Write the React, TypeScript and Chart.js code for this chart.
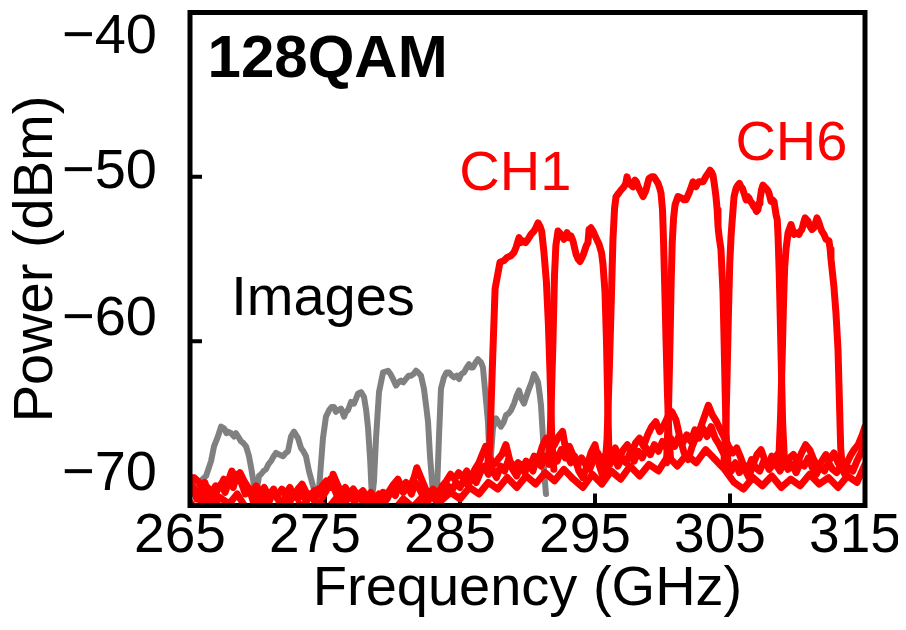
import React, { useEffect, useRef } from "react";
import { Chart, registerables } from "chart.js";

Chart.register(...registerables);

// ---------- data ----------
const xTickValues = [265, 275, 285, 295, 305, 315];
const xTickLabels = ["265", "275", "285", "295", "305", "315"];
const yTickValues = [-40, -50, -60, -70];
const yTickLabels = ["\u221240", "\u221250", "\u221260", "\u221270"];

const ch1: [number, number][] = [
  [287.0, -67.8], [287.2, -66.5], [287.4, -61.5], [287.6, -56.8], [287.96, -55.2], [288.25, -55.1],
  [288.5, -54.9], [288.78, -54.8], [289.0, -54.6], [289.15, -54.3], [289.37, -53.7], [289.52, -54.0],
  [289.67, -53.9], [289.85, -54.0], [290.04, -53.8], [290.26, -53.5], [290.48, -53.3], [290.62, -53.1],
  [290.78, -52.8], [290.92, -53.0], [291.05, -53.3], [291.22, -54.6], [291.4, -56.4], [291.55, -59.0],
  [291.67, -62.0], [291.8, -66.0], [291.95, -67.8],
];
const ch2: [number, number][] = [
  [291.6, -67.5], [291.75, -64.0], [291.89, -59.9], [292.0, -56.0], [292.1, -54.2], [292.26, -53.3],
  [292.48, -53.5], [292.7, -53.8], [292.93, -53.4], [293.07, -53.7], [293.22, -53.6], [293.37, -53.9],
  [293.59, -54.7], [293.75, -55.0], [293.89, -55.15], [294.05, -54.9], [294.19, -54.6], [294.35, -54.2],
  [294.48, -54.0], [294.56, -53.2], [294.7, -53.1], [294.85, -53.3], [295.07, -53.7], [295.3, -54.1],
  [295.48, -54.6], [295.59, -55.3], [295.74, -57.0], [295.85, -60.0], [295.95, -64.0], [296.05, -67.5],
];
const ch3: [number, number][] = [
  [295.75, -67.5], [295.89, -66.0], [296.05, -62.0], [296.19, -58.0], [296.33, -53.8], [296.45, -51.9],
  [296.56, -51.2], [296.75, -51.0], [296.93, -50.8], [297.15, -50.6], [297.28, -50.4], [297.37, -50.0],
  [297.52, -50.4], [297.66, -50.5], [297.81, -50.6], [297.96, -50.2], [298.07, -50.3], [298.19, -50.6],
  [298.38, -50.9], [298.56, -51.2], [298.67, -51.0], [298.78, -50.8], [298.9, -50.4], [299.0, -50.1],
  [299.2, -50.0], [299.37, -50.0], [299.52, -50.2], [299.67, -50.4], [299.8, -50.7], [299.89, -51.0],
  [300.0, -52.0], [300.08, -54.0], [300.16, -56.5], [300.26, -59.9], [300.36, -63.0], [300.46, -65.5],
  [300.6, -67.2],
];
const ch4: [number, number][] = [
  [300.3, -67.4], [300.45, -64.0], [300.56, -59.9], [300.64, -56.5], [300.72, -54.0], [300.82, -52.5],
  [300.93, -51.7], [301.15, -51.2], [301.44, -51.3], [301.6, -51.4], [301.74, -51.4], [301.85, -51.2],
  [301.96, -51.0], [302.1, -50.7], [302.26, -50.3], [302.37, -50.5], [302.48, -50.6], [302.6, -50.4],
  [302.7, -50.3], [302.85, -50.3], [303.0, -50.3], [303.2, -50.0], [303.37, -49.8], [303.52, -49.6],
  [303.62, -49.7], [303.74, -49.9], [303.85, -50.5], [303.96, -51.2], [304.05, -52.0], [304.11, -53.0],
  [304.2, -53.7], [304.33, -54.4], [304.48, -57.0], [304.56, -59.9], [304.64, -63.0], [304.72, -65.8],
  [304.85, -67.4],
];
const ch5: [number, number][] = [
  [304.55, -67.4], [304.7, -65.0], [304.8, -61.5], [304.88, -58.5], [304.98, -55.3], [305.08, -53.6],
  [305.15, -52.8], [305.3, -51.2], [305.45, -50.7], [305.59, -50.5], [305.7, -50.4], [305.81, -50.6],
  [305.92, -50.7], [306.04, -51.0], [306.19, -51.4], [306.3, -51.2], [306.41, -51.3], [306.52, -51.5],
  [306.63, -51.6], [306.75, -51.8], [306.85, -51.9], [306.97, -52.1], [307.07, -52.0], [307.15, -51.6],
  [307.22, -51.4], [307.33, -50.8], [307.44, -50.5], [307.55, -50.6], [307.67, -50.7], [307.78, -50.8],
  [307.89, -51.0], [308.04, -51.5], [308.15, -51.4], [308.26, -51.5], [308.41, -52.3], [308.5, -52.6],
  [308.56, -53.6], [308.65, -56.0], [308.72, -58.5], [308.8, -61.5], [308.9, -65.0], [309.05, -67.5],
];
const ch6: [number, number][] = [
  [308.6, -67.5], [308.75, -64.5], [308.88, -60.5], [308.97, -57.5], [309.05, -55.5], [309.15, -54.4],
  [309.3, -53.4], [309.52, -52.9], [309.63, -53.2], [309.74, -53.5], [309.9, -53.4], [310.11, -53.5],
  [310.22, -53.3], [310.33, -53.2], [310.45, -52.8], [310.56, -52.5], [310.67, -52.6], [310.78, -52.7],
  [310.92, -53.0], [311.07, -53.2], [311.22, -53.1], [311.33, -52.8], [311.44, -52.5], [311.55, -52.7],
  [311.67, -53.0], [311.8, -53.3], [311.96, -53.5], [312.11, -53.8], [312.33, -53.9], [312.42, -54.4],
  [312.48, -55.0], [312.7, -56.7], [312.85, -58.3], [313.0, -60.5], [313.1, -63.5], [313.2, -66.5],
  [313.3, -67.5],
];

const floorUpper: [number, number][] = [
  [265.0, -68.8], [265.3, -68.3], [265.7, -68.6], [266.0, -69.3], [266.3, -68.9], [266.6, -69.2],
  [266.9, -68.8], [267.2, -68.9], [267.5, -68.4], [267.8, -68.6], [268.1, -67.9], [268.4, -68.3],
  [268.7, -68.0], [269.0, -68.5], [269.3, -68.9], [269.6, -69.3], [269.9, -68.8], [270.2, -69.2],
  [270.5, -68.9], [270.8, -69.4], [271.1, -69.1], [271.4, -69.5], [271.8, -69.0], [272.1, -69.3],
  [272.4, -68.9], [272.7, -69.5], [273.0, -69.0], [273.3, -68.7], [273.6, -69.2], [273.9, -69.5],
  [274.2, -69.1], [274.5, -69.3], [274.8, -68.8], [275.1, -68.5], [275.4, -68.9], [275.6, -68.1],
  [275.9, -68.7], [276.2, -69.2], [276.5, -68.9], [276.8, -69.3], [277.1, -69.0], [277.4, -69.4],
  [277.8, -69.1], [278.1, -69.5], [278.4, -69.2], [278.7, -69.6], [279.0, -69.3], [279.4, -69.7],
  [279.7, -69.2], [280.0, -68.8], [280.4, -68.4], [280.7, -68.9], [281.0, -68.6], [281.3, -68.9],
  [281.6, -68.3], [281.8, -67.7], [282.1, -68.3], [282.4, -68.9], [282.7, -69.4], [283.0, -69.0],
  [283.4, -69.3], [283.7, -68.8], [284.0, -68.5], [284.3, -68.1], [284.6, -68.4], [284.9, -68.0],
  [285.2, -68.3], [285.5, -67.9], [285.8, -68.4], [286.1, -67.8], [286.4, -67.4], [286.7, -66.8],
  [286.9, -66.4], [287.2, -67.1], [287.5, -67.5], [287.8, -67.2], [288.1, -66.9], [288.4, -66.3],
  [288.7, -67.3], [289.0, -67.7], [289.3, -67.4], [289.6, -67.8], [289.9, -67.3], [290.2, -67.6],
  [290.5, -67.0], [290.8, -67.2], [291.1, -66.4], [291.4, -65.9], [291.7, -66.6], [292.0, -66.3],
  [292.3, -65.8], [292.6, -65.5], [292.9, -66.9], [293.2, -67.4], [293.5, -67.0], [293.8, -67.9],
  [294.1, -68.3], [294.4, -67.6], [294.7, -66.8], [295.0, -66.3], [295.3, -67.5], [295.6, -68.3],
  [295.9, -67.6], [296.2, -66.9], [296.5, -66.5], [296.8, -67.1], [297.1, -66.6], [297.4, -66.3],
  [297.7, -66.8], [298.0, -66.2], [298.3, -65.9], [298.6, -66.4], [298.9, -65.7], [299.2, -65.2],
  [299.5, -64.9], [299.8, -65.5], [300.1, -65.1], [300.4, -64.6], [300.7, -64.3], [301.0, -64.8],
  [301.3, -65.9], [301.6, -66.8], [301.9, -67.2], [302.2, -66.4], [302.5, -65.8], [302.8, -65.3],
  [303.1, -64.6], [303.4, -63.9], [303.7, -64.5], [304.0, -64.9], [304.3, -65.4], [304.6, -65.9],
  [304.9, -66.4], [305.2, -66.8], [305.5, -66.5], [305.8, -67.1], [306.1, -67.8], [306.4, -68.3],
  [306.7, -67.5], [307.0, -66.9], [307.3, -66.6], [307.6, -67.3], [307.9, -67.8], [308.2, -67.5],
  [308.5, -66.9], [308.8, -67.3], [309.1, -67.6], [309.4, -67.1], [309.7, -66.9], [310.0, -67.4],
  [310.3, -66.8], [310.6, -66.3], [310.9, -66.6], [311.2, -67.2], [311.5, -67.6], [311.8, -67.3],
  [312.1, -66.9], [312.4, -67.2], [312.7, -66.8], [313.0, -67.4], [313.3, -67.8], [313.6, -67.5],
  [313.9, -67.0], [314.2, -66.6], [314.5, -66.3], [314.8, -65.7], [315.0, -65.2],
];
const floorMid: [number, number][] = [
  [265.0, -69.3], [265.25, -68.9], [265.5, -69.6], [265.8, -69.0], [266.1, -68.6], [266.4, -69.4],
  [266.7, -69.8], [267.0, -69.1], [267.3, -68.7], [267.6, -69.2], [267.9, -68.5], [268.2, -68.9],
  [268.5, -68.1], [268.8, -68.6], [269.1, -69.3], [269.4, -69.0], [269.7, -69.8], [270.0, -69.4],
  [270.3, -69.9], [270.6, -69.3], [270.9, -69.7], [271.2, -69.0], [271.5, -69.6], [271.8, -69.9],
  [272.1, -69.4], [272.4, -69.8], [272.7, -69.2], [273.0, -69.6], [273.3, -69.1], [273.6, -69.8],
  [273.9, -69.3], [274.2, -69.7], [274.5, -69.0], [274.8, -69.5], [275.1, -69.1], [275.4, -68.4],
  [275.7, -69.0], [276.0, -69.6], [276.3, -69.1], [276.6, -69.7], [276.9, -69.4], [277.2, -69.8],
  [277.5, -69.3], [277.8, -69.8], [278.1, -69.4], [278.4, -69.9], [278.7, -69.5], [279.0, -69.8],
  [279.3, -69.2], [279.6, -69.6], [279.9, -69.1], [280.2, -69.4], [280.5, -68.7], [280.8, -69.2],
  [281.1, -68.8], [281.4, -69.3], [281.7, -68.6], [282.0, -69.0], [282.3, -69.5], [282.6, -69.8],
  [282.9, -69.3], [283.2, -69.7], [283.5, -69.1], [283.8, -69.4], [284.1, -68.8], [284.4, -69.1],
  [284.7, -68.6], [285.0, -68.9], [285.3, -68.4], [285.6, -68.8], [285.9, -68.2], [286.2, -68.6],
  [286.5, -68.0], [286.8, -67.6], [287.1, -68.1], [287.4, -67.8], [287.7, -68.3], [288.0, -67.6],
  [288.3, -67.9], [288.6, -67.2], [288.9, -67.8], [289.2, -68.2], [289.5, -67.5], [289.8, -68.0],
  [290.1, -67.4], [290.4, -67.9], [290.7, -67.1], [291.0, -67.6], [291.3, -67.0], [291.6, -67.4],
  [291.9, -66.8], [292.2, -67.3], [292.5, -66.6], [292.8, -67.1], [293.1, -66.4], [293.4, -67.0],
  [293.7, -67.6], [294.0, -67.1], [294.3, -67.5], [294.6, -67.8], [294.9, -67.2], [295.2, -66.8],
  [295.5, -67.3], [295.8, -66.9], [296.1, -67.5], [296.4, -67.0], [296.7, -67.6], [297.0, -67.1],
  [297.3, -67.4], [297.6, -66.8], [297.9, -67.3], [298.2, -66.7], [298.5, -67.1], [298.8, -66.5],
  [299.1, -66.9], [299.4, -66.3], [299.7, -66.7], [300.0, -66.1], [300.3, -66.5], [300.6, -65.9],
  [300.9, -66.4], [301.2, -65.8], [301.5, -66.2], [301.8, -65.7], [302.1, -66.1], [302.4, -65.4],
  [302.7, -65.9], [303.0, -65.3], [303.3, -65.8], [303.6, -65.2], [303.9, -65.9], [304.2, -66.3],
  [304.5, -66.8], [304.8, -67.3], [305.1, -67.9], [305.4, -67.4], [305.7, -68.0], [306.0, -67.5],
  [306.3, -67.9], [306.6, -67.2], [306.9, -67.7], [307.2, -67.9], [307.5, -67.3], [307.8, -67.6],
  [308.1, -67.0], [308.4, -67.5], [308.7, -67.9], [309.0, -67.4], [309.3, -67.8], [309.6, -67.5],
  [309.9, -68.0], [310.2, -67.4], [310.5, -67.6], [310.8, -67.1], [311.1, -67.7], [311.4, -68.1],
  [311.7, -67.6], [312.0, -67.9], [312.3, -67.4], [312.6, -67.8], [312.9, -68.0], [313.2, -67.6],
  [313.5, -68.1], [313.8, -67.7], [314.1, -67.9], [314.4, -67.3], [314.7, -66.8], [315.0, -66.2],
];
const floorLower: [number, number][] = [
  [265.0, -69.8], [265.5, -70.3], [266.0, -69.6], [266.6, -70.2], [267.2, -69.5], [267.9, -69.9],
  [268.5, -69.3], [269.1, -70.1], [269.8, -70.4], [270.5, -69.8], [271.2, -70.3], [271.8, -69.7],
  [272.5, -70.4], [273.1, -69.9], [273.8, -70.3], [274.5, -69.8], [275.2, -70.2], [275.9, -69.5],
  [276.6, -70.1], [277.3, -70.4], [278.0, -69.8], [278.7, -70.3], [279.4, -69.9], [280.1, -70.3],
  [280.8, -69.6], [281.5, -70.1], [282.2, -69.5], [282.9, -70.2], [283.6, -69.7], [284.3, -69.2],
  [285.0, -69.6], [285.7, -68.9], [286.4, -69.3], [287.1, -68.6], [287.8, -69.0], [288.5, -68.3],
  [289.2, -68.9], [289.9, -68.2], [290.6, -68.7], [291.3, -68.0], [292.0, -68.5], [292.7, -67.8],
  [293.4, -68.4], [294.1, -68.9], [294.8, -68.1], [295.5, -68.7], [296.2, -67.9], [296.9, -68.4],
  [297.6, -67.6], [298.3, -68.2], [299.0, -67.5], [299.7, -67.9], [300.4, -67.0], [301.1, -67.6],
  [301.8, -66.9], [302.5, -67.4], [303.2, -66.6], [303.9, -67.2], [304.6, -67.8], [305.3, -68.6],
  [306.0, -69.0], [306.7, -68.3], [307.4, -68.8], [308.1, -68.2], [308.8, -68.9], [309.5, -68.4],
  [310.2, -68.8], [310.9, -68.1], [311.6, -68.7], [312.3, -68.3], [313.0, -68.9], [313.7, -68.2],
  [314.4, -68.6], [315.0, -67.5],
];

const images: [number, number][] = [
  [265.0, -69.3], [265.4, -68.9], [265.81, -68.5], [266.19, -68.2], [266.56, -67.3], [266.78, -66.4],
  [267.07, -65.8], [267.3, -65.2], [267.52, -65.3], [267.7, -65.6], [267.81, -65.5], [268.04, -65.6],
  [268.26, -65.8], [268.4, -65.6], [268.56, -65.8], [268.78, -66.1], [268.95, -66.2], [269.15, -66.4],
  [269.37, -67.0], [269.55, -67.8], [269.67, -68.4], [269.81, -69.3], [269.96, -69.0], [270.11, -68.2],
  [270.26, -68.1], [270.45, -67.9], [270.63, -67.8], [270.8, -67.5], [271.0, -67.3], [271.2, -67.0],
  [271.37, -66.8], [271.6, -66.9], [271.89, -67.0], [272.1, -66.8], [272.26, -66.7], [272.48, -65.8],
  [272.7, -65.5], [272.85, -65.7], [273.0, -65.9], [273.22, -66.5], [273.4, -66.7], [273.59, -67.0],
  [273.81, -67.9], [274.11, -68.8], [274.33, -69.4], [274.56, -69.0], [274.85, -65.9], [275.07, -64.6],
  [275.3, -64.2], [275.5, -64.0], [275.67, -64.0], [275.8, -64.3], [275.96, -64.2], [276.19, -64.1],
  [276.41, -64.6], [276.55, -64.3], [276.7, -64.2], [276.93, -63.7], [277.15, -63.8], [277.3, -63.5],
  [277.44, -63.2], [277.67, -63.1], [277.89, -63.4], [278.05, -64.2], [278.19, -65.3], [278.35, -67.3],
  [278.48, -69.6], [278.63, -68.5], [278.78, -65.9], [279.0, -63.1], [279.3, -61.9], [279.67, -61.8],
  [279.85, -62.0], [280.04, -62.3], [280.26, -62.7], [280.45, -62.5], [280.63, -62.4], [280.8, -62.5],
  [281.0, -62.3], [281.2, -62.1], [281.37, -62.1], [281.55, -62.0], [281.74, -61.8], [281.9, -61.9],
  [282.11, -62.1], [282.33, -62.9], [282.5, -64.0], [282.63, -64.9], [282.78, -67.0], [283.0, -69.3],
  [283.3, -69.0], [283.44, -65.9], [283.59, -62.9], [283.81, -62.2], [284.0, -61.9], [284.19, -61.9],
  [284.4, -62.1], [284.56, -62.2], [284.75, -62.1], [284.93, -62.3], [285.1, -62.0], [285.3, -61.9],
  [285.5, -61.6], [285.67, -61.4], [285.8, -61.6], [285.96, -61.6], [286.15, -61.3], [286.33, -61.1],
  [286.45, -61.2], [286.56, -61.3], [286.7, -61.6], [286.78, -62.3], [286.95, -63.8], [287.07, -64.9],
  [287.22, -67.8], [287.44, -65.3], [287.67, -64.7], [288.04, -65.2], [288.25, -64.9], [288.41, -64.5],
  [288.6, -64.4], [288.78, -64.2], [289.0, -63.8], [289.2, -63.3], [289.37, -63.0], [289.55, -63.5],
  [289.74, -63.8], [289.9, -63.4], [290.11, -62.9], [290.3, -62.5], [290.48, -62.0], [290.62, -62.2],
  [290.78, -62.5], [290.9, -63.2], [291.0, -63.9], [291.15, -65.9], [291.22, -67.9], [291.37, -69.3],
];

// text annotations
const noteTexts = ["128QAM", "CH1", "CH6", "Images"];
const noteFreq = [266.3, 284.95, 305.4, 268.05];
const notePower = [-43.93, -50.8, -48.98, -58.4];

// ---------- styling ----------
const FONT = "'Liberation Sans', Arial, Helvetica, sans-serif";
const RED = "#ff0000";
const GREY = "#808080";
const yLabelNudge = [-1.52, 0.29, 1.29, 1.86]; // visual placement of y labels as in the figure
const noteStyle = [
  { color: "#000", weight: "bold", size: 60 },
  { color: RED, weight: "normal", size: 56 },
  { color: RED, weight: "normal", size: 56 },
  { color: "#000", weight: "normal", size: 56 },
];

const toXY = (arr: [number, number][]) => arr.map(([x, y]) => ({ x, y }));

const framePlugin = {
  id: "framePlugin",
  beforeDatasetsDraw(chart: any) {
    const { ctx, chartArea: a, scales } = chart;
    ctx.save();
    ctx.strokeStyle = "#000";
    ctx.lineWidth = 4;
    ctx.beginPath();
    for (const v of xTickValues) {
      if (v === scales.x.min || v === scales.x.max) continue;
      const px = scales.x.getPixelForValue(v);
      ctx.moveTo(px, a.bottom);
      ctx.lineTo(px, a.bottom - 12);
    }
    for (const v of yTickValues) {
      if (v === scales.y.min || v === scales.y.max) continue;
      const py = scales.y.getPixelForValue(v);
      ctx.moveTo(a.left, py);
      ctx.lineTo(a.left + 12, py);
    }
    ctx.stroke();
    ctx.restore();
  },
  afterDatasetsDraw(chart: any) {
    const { ctx, chartArea: a, scales } = chart;
    ctx.save();
    ctx.strokeStyle = "#000";
    ctx.lineWidth = 5;
    ctx.strokeRect(a.left, a.top, a.right - a.left, a.bottom - a.top);
    ctx.textAlign = "left";
    ctx.textBaseline = "alphabetic";
    noteTexts.forEach((t, i) => {
      const st = noteStyle[i];
      ctx.fillStyle = st.color;
      ctx.font = `${st.weight} ${st.size}px ${FONT}`;
      ctx.fillText(t, scales.x.getPixelForValue(noteFreq[i]), scales.y.getPixelForValue(notePower[i]));
    });
    ctx.restore();
  },
};

export default function App() {
  const ref = useRef<HTMLCanvasElement | null>(null);

  useEffect(() => {
    if (!ref.current) return;
    const line = (label: string, arr: [number, number][], color: string, width: number) => ({
      label,
      data: toXY(arr),
      borderColor: color,
      backgroundColor: color,
      borderWidth: width,
      pointRadius: 0,
      tension: 0,
      fill: false,
      clip: 0,
      borderJoinStyle: "round" as const,
      borderCapStyle: "round" as const,
    });
    const chart = new Chart(ref.current, {
      type: "line",
      data: {
        datasets: [
          line("CH1", ch1, RED, 7),
          line("CH2", ch2, RED, 7),
          line("CH3", ch3, RED, 7),
          line("CH4", ch4, RED, 7),
          line("CH5", ch5, RED, 7),
          line("CH6", ch6, RED, 7),
          line("Noise A", floorUpper, RED, 7),
          line("Noise M", floorMid, RED, 7),
          line("Noise B", floorLower, RED, 7),
          line("Images", images, GREY, 6),
        ],
      },
      options: {
        animation: false,
        responsive: false,
        devicePixelRatio: 1,
        layout: { padding: { left: 0, top: 12.5, right: 41, bottom: 0 } },
        plugins: { legend: { display: false }, tooltip: { enabled: false } },
        scales: {
          x: {
            type: "linear",
            min: 265,
            max: 315,
            afterBuildTicks: (s: any) => {
              s.ticks = xTickValues.map((v) => ({ value: v }));
            },
            afterFit: (s: any) => {
              s.height = 124.5;
              s.paddingLeft = 0;
              s.paddingRight = 0;
            },
            grid: { display: false, drawTicks: false },
            border: { display: false },
            ticks: {
              autoSkip: false,
              maxRotation: 0,
              minRotation: 0,
              labelOffset: -10,
              padding: 3.5,
              color: "#000",
              font: { family: FONT, size: 55, lineHeight: 1 },
              callback: (_v: any, i: number) => xTickLabels[i],
            },
            title: {
              display: true,
              text: "Frequency (GHz)",
              color: "#000",
              font: { family: FONT, size: 56 },
              padding: { top: 0, bottom: 7 },
            },
          },
          y: {
            type: "linear",
            min: -70,
            max: -40,
            afterBuildTicks: (s: any) => {
              s.ticks = yTickValues.map((v, i) => ({ value: v + yLabelNudge[i] }));
            },
            afterFit: (s: any) => {
              s.width = 190;
              s.paddingTop = 0;
              s.paddingBottom = 0;
            },
            grid: { display: false, drawTicks: false },
            border: { display: false },
            ticks: {
              autoSkip: false,
              padding: 33,
              color: "#000",
              font: { family: FONT, size: 56, lineHeight: 1 },
              callback: (_v: any, i: number) => yTickLabels[i],
            },
            title: {
              display: true,
              text: "Power (dBm)",
              color: "#000",
              font: { family: FONT, size: 56 },
              padding: { top: 3, bottom: 0 },
            },
          },
        },
      },
      plugins: [framePlugin],
    } as any);
    return () => chart.destroy();
  }, []);

  return (
    <div style={{ width: 906, height: 630, margin: -8, background: "#fff" }}>
      <canvas ref={ref} width={906} height={630} style={{ display: "block", width: 906, height: 630 }} />
    </div>
  );
}
